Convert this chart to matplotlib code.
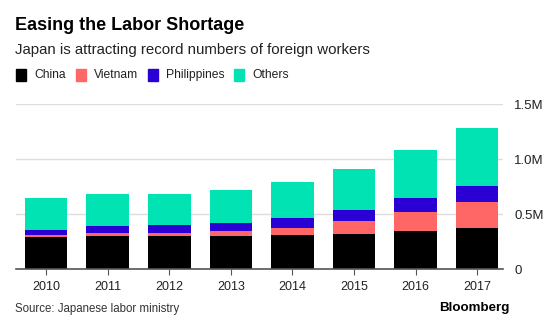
import numpy as np
import matplotlib.pyplot as plt

years = ['2010', '2011', '2012', '2013', '2014', '2015', '2016', '2017']
# foreign workers in Japan, thousands
china = np.array([287, 297, 296, 303, 312, 322, 345, 372])
vietnam = np.array([20, 27, 27, 38, 61, 110, 172, 240])
philippines = np.array([52, 69, 73, 80, 92, 107, 128, 147])
others = np.array([291, 293, 286, 297, 323, 369, 439, 520])

series = [('China', china, '#000000'),
          ('Vietnam', vietnam, '#ff6666'),
          ('Philippines', philippines, '#2a00d4'),
          ('Others', others, '#02e3b3')]

plt.rcParams['font.family'] = ['Liberation Sans', 'DejaVu Sans']

fig = plt.figure(figsize=(5.6, 3.27), dpi=100)
ax = fig.add_axes([16 / 560, 1 - 269 / 327, (503 - 16) / 560, (269 - 104) / 327])

x = np.arange(len(years))
bottom = np.zeros(len(years))
for name, vals, color in series:
    ax.bar(x, vals / 1000, 0.69, bottom=bottom / 1000, color=color, zorder=2)
    bottom += vals

ax.set_xlim(-0.49, 7.42)
ax.set_ylim(0, 1.5)
ax.set_yticks([0, 0.5, 1.0, 1.5])
ax.set_yticklabels(['0', '0.5M', '1.0M', '1.5M'])
ax.yaxis.tick_right()
ax.tick_params(axis='y', length=0, pad=8, labelsize=9.5, labelcolor='#222222')
ax.set_xticks(x)
ax.set_xticklabels(years)
ax.tick_params(axis='x', length=4, color='#555555', pad=5, labelsize=9, labelcolor='#222222')
ax.grid(axis='y', color='#dddddd', linewidth=1, zorder=0)
for side in ['top', 'right', 'left']:
    ax.spines[side].set_visible(False)
ax.spines['bottom'].set_color('#555555')
ax.spines['bottom'].set_linewidth(1.2)

fig.text(15 / 560, 1 - 26 / 327, 'Easing the Labor Shortage', fontsize=13,
         fontweight='bold', va='center', ha='left')
fig.text(15 / 560, 1 - 50 / 327, 'Japan is attracting record numbers of foreign workers',
         fontsize=10.8, va='center', ha='left', color='#222222')

# legend row
lx = 16
for name, vals, color in series:
    fig.patches.append(plt.Rectangle((lx / 560, 1 - 81 / 327), 10 / 560, 12 / 327,
                                     transform=fig.transFigure, color=color))
    t = fig.text((lx + 18) / 560, 1 - 75 / 327, name, fontsize=8.7, va='center', ha='left',
                 color='#222222')
    fig.canvas.draw()
    bb = t.get_window_extent()
    lx = bb.x1 + 10

fig.text(15 / 560, 1 - 309 / 327, 'Source: Japanese labor ministry', fontsize=8.3,
         va='center', ha='left', color='#333333')
fig.text(509 / 560, 1 - 308 / 327, 'Bloomberg', fontsize=9.6, fontweight='bold',
         va='center', ha='right')

fig.savefig('out.png', dpi=100)
